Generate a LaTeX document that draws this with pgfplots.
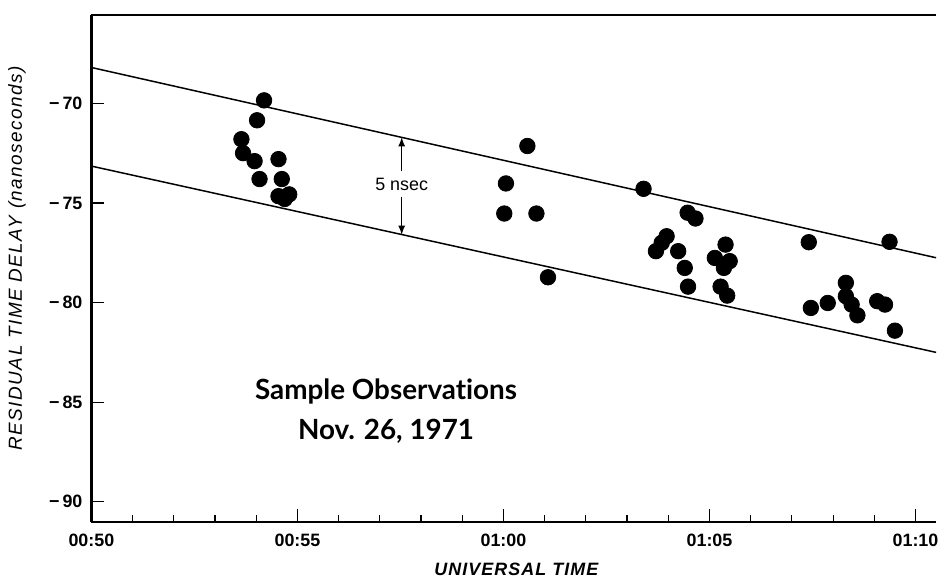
\documentclass[border=0pt]{standalone}
\usepackage{fontspec}
\setmainfont{Liberation Sans}
\newfontfamily\lato[Ligatures=NoCommon]{Lato}
\usepackage{pgfplots}
\pgfplotsset{compat=1.18}
\begin{document}
\begin{tikzpicture}
\begin{axis}[
  at={(0,0)}, anchor=south west,
  scale only axis, width=425pt, height=255pt,
  xmin=0, xmax=20.5, ymin=-91.0, ymax=-65.56,
  axis x line*=bottom, axis y line*=left,
  axis line style={line width=1.2pt},
  tick align=inside,
  xtick={0,5,10,15,20},
  xticklabels={00:50,00:55,01:00,01:05,01:10},
  minor xtick={1,2,3,4,6,7,8,9,11,12,13,14,16,17,18,19},
  ytick={-90,-85,-80,-75,-70},
  yticklabels={−\,90,−\,85,−\,80,−\,75,−\,70},
  major tick length=6.5pt, minor tick length=3.5pt,
  tick style={line width=0.6pt, black},
  ticklabel style={font=\fontsize{9}{10}\selectfont\bfseries},
  xticklabel style={yshift=-2.5pt},
  yticklabel style={xshift=-1pt},
  xlabel={UNIVERSAL TIME},
  ylabel={RESIDUAL TIME DELAY (nanoseconds)},
  xlabel style={font=\fontsize{9}{10}\selectfont\bfseries\itshape\addfontfeatures{LetterSpace=6},
    at={(axis description cs:0.503,-0.094)}, anchor=center},
  ylabel style={font=\fontsize{9.5}{10}\selectfont\itshape\addfontfeatures{LetterSpace=8},
    at={(axis description cs:-0.088,0.52)}, anchor=center},
  clip=false,
]
% boundary lines
\addplot[black, line width=0.75pt] coordinates {(0,-68.2) (20.5,-77.75)};
\addplot[black, line width=0.75pt] coordinates {(0,-73.15) (20.5,-82.5)};
% observations
\addplot[only marks, mark=*, mark size=3.9pt, black] coordinates {
(4.19,-69.85) (4.02,-70.85) (3.64,-71.8) (3.68,-72.5) (3.96,-72.9)
(4.54,-72.8) (4.08,-73.8) (4.62,-73.8) (4.54,-74.66) (4.80,-74.57) (4.69,-74.8)
(10.58,-72.14) (10.06,-74.02) (10.02,-75.53) (10.80,-75.53) (11.08,-78.73)
(13.40,-74.29) (14.47,-75.49) (14.66,-75.78) (13.96,-76.67) (13.84,-77.0)
(13.70,-77.42) (14.24,-77.42) (14.40,-78.26) (14.48,-79.2)
(15.39,-77.09) (15.13,-77.76) (15.49,-77.92) (15.35,-78.26) (15.27,-79.2) (15.43,-79.65)
(17.41,-76.97) (19.37,-76.95) (18.31,-79.01) (18.31,-79.68) (18.45,-80.1)
(18.59,-80.64) (17.87,-80.02) (17.46,-80.27) (19.07,-79.93) (19.26,-80.1) (19.50,-81.41)
};
% annotations
\node[font=\fontsize{9}{10}\selectfont, fill=white, inner sep=1pt] at (axis cs:7.53,-74.06) {5 nsec};
\draw[-latex, line width=0.6pt] (axis cs:7.53,-73.4) -- (axis cs:7.53,-71.7);
\draw[-latex, line width=0.6pt] (axis cs:7.53,-74.7) -- (axis cs:7.53,-76.6);
\node[font=\lato\fontsize{14}{17}\selectfont\bfseries, anchor=base] at (axis cs:7.15,-84.86) {Sample Observations};
\node[font=\lato\fontsize{14}{17}\selectfont\bfseries, anchor=base] at (axis cs:7.15,-86.86) {Nov. 26, 1971};
\draw[line width=1.2pt] (rel axis cs:0,1) -- (rel axis cs:1,1);
\end{axis}
\path[use as bounding box] (-46pt,-28pt) rectangle (426.5pt,262.5pt);
\end{tikzpicture}
\end{document}
